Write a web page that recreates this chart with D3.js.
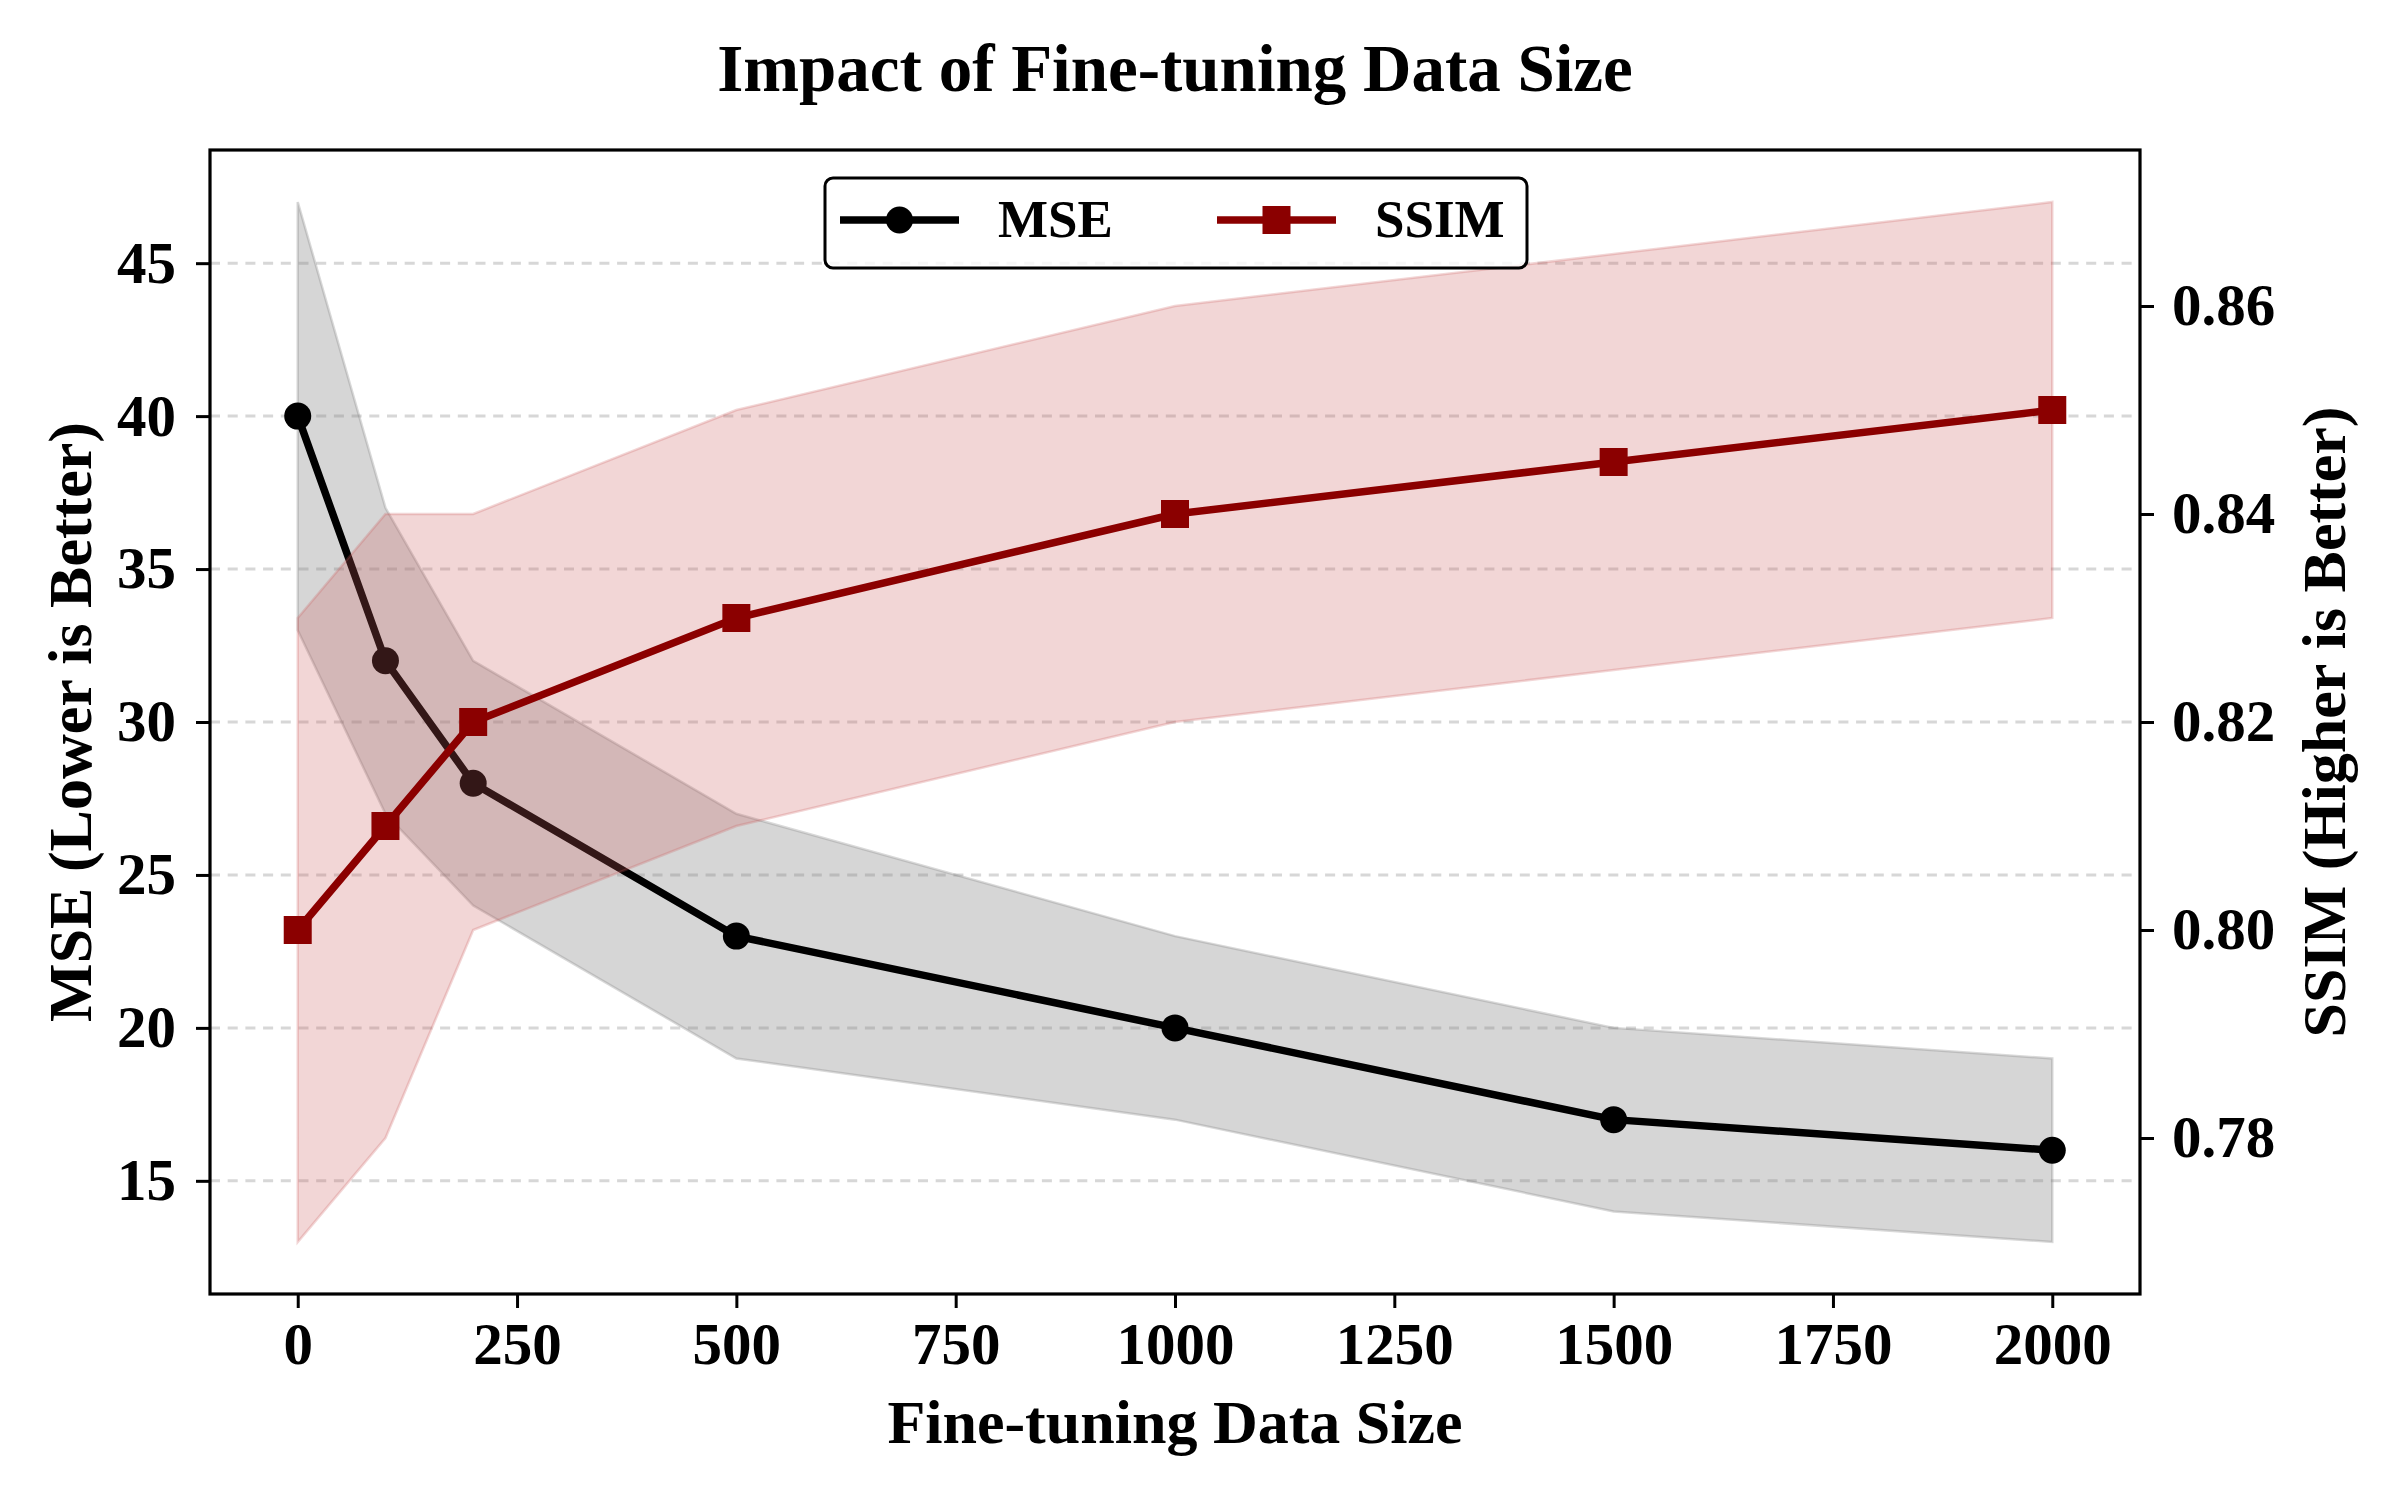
<!DOCTYPE html>
<html>
<head>
<meta charset="utf-8">
<script src="https://cdn.jsdelivr.net/npm/d3@7"></script>
<style>
  body { margin: 0; background: #fff; }
  text { font-family: "Liberation Serif", "Times New Roman", serif; font-weight: bold; }
</style>
</head>
<body>
<svg width="2400" height="1500"></svg>
<script>
// ---- data ----
var sizes = [0, 100, 200, 500, 1000, 1500, 2000];
var mseMean = [40, 32, 28, 23, 20, 17, 16];
var mseLow  = [33, 27, 24, 19, 17, 14, 13];
var mseHigh = [47, 37, 32, 27, 23, 20, 19];
var ssimMean = [0.80, 0.81, 0.82, 0.83, 0.84, 0.845, 0.85];
var ssimLow  = [0.77, 0.78, 0.80, 0.81, 0.82, 0.825, 0.83];
var ssimHigh = [0.83, 0.84, 0.84, 0.85, 0.86, 0.865, 0.87];
var xTicks = [0, 250, 500, 750, 1000, 1250, 1500, 1750, 2000];
var mseTicks = [15, 20, 25, 30, 35, 40, 45];
var ssimTicks = [0.78, 0.80, 0.82, 0.84, 0.86];

var svg = d3.select('svg');

// plot box
var box = {l: 210, r: 2140, t: 150, b: 1294};
var mseColor = '#000000';
var ssimColor = '#8B0000';
var lineW = 7.5;

var x = d3.scaleLinear().domain([-100, 2100]).range([box.l, box.r]);
var yMse = d3.scaleLinear().domain([11.3, 48.7]).range([box.b, box.t]);
var ySsim = d3.scaleLinear().domain([0.765, 0.875]).range([box.b, box.t]);

var rows = sizes.map(function(s, i) {
    return {x: s, mse: mseMean[i], mLo: mseLow[i], mHi: mseHigh[i],
            ssim: ssimMean[i], sLo: ssimLow[i], sHi: ssimHigh[i]};
});

// grid (left axis ticks)
svg.append('g').selectAll('line')
    .data(mseTicks)
    .enter().append('line')
    .attr('x1', box.l).attr('x2', box.r)
    .attr('y1', function(d) { return yMse(d); })
    .attr('y2', function(d) { return yMse(d); })
    .attr('stroke', '#b0b0b0')
    .attr('stroke-opacity', 0.5)
    .attr('stroke-width', 3)
    .attr('stroke-dasharray', '10,7.7');

// MSE band + line
var mseArea = d3.area()
    .x(function(d) { return x(d.x); })
    .y0(function(d) { return yMse(d.mLo); })
    .y1(function(d) { return yMse(d.mHi); });
svg.append('path')
    .datum(rows)
    .attr('d', mseArea)
    .attr('fill', '#808080').attr('fill-opacity', 0.32)
    .attr('stroke', '#808080').attr('stroke-opacity', 0.3).attr('stroke-width', 2.5);

var mseLine = d3.line()
    .x(function(d) { return x(d.x); })
    .y(function(d) { return yMse(d.mse); });
svg.append('path')
    .datum(rows)
    .attr('d', mseLine)
    .attr('fill', 'none')
    .attr('stroke', mseColor)
    .attr('stroke-width', lineW);
svg.append('g').selectAll('circle')
    .data(rows)
    .enter().append('circle')
    .attr('cx', function(d) { return x(d.x); })
    .attr('cy', function(d) { return yMse(d.mse); })
    .attr('r', 13.5)
    .attr('fill', mseColor);

// SSIM band + line (twin axis, drawn on top)
var ssimArea = d3.area()
    .x(function(d) { return x(d.x); })
    .y0(function(d) { return ySsim(d.sLo); })
    .y1(function(d) { return ySsim(d.sHi); });
svg.append('path')
    .datum(rows)
    .attr('d', ssimArea)
    .attr('fill', '#CD5C5C').attr('fill-opacity', 0.25)
    .attr('stroke', '#CD5C5C').attr('stroke-opacity', 0.25).attr('stroke-width', 2.5);

var ssimLine = d3.line()
    .x(function(d) { return x(d.x); })
    .y(function(d) { return ySsim(d.ssim); });
svg.append('path')
    .datum(rows)
    .attr('d', ssimLine)
    .attr('fill', 'none')
    .attr('stroke', ssimColor)
    .attr('stroke-width', lineW);
svg.append('g').selectAll('rect')
    .data(rows)
    .enter().append('rect')
    .attr('x', function(d) { return x(d.x) - 14; })
    .attr('y', function(d) { return ySsim(d.ssim) - 14; })
    .attr('width', 28).attr('height', 28)
    .attr('fill', ssimColor);

// Axes
function styleAxis(g) {
    g.select('.domain').remove();
    g.selectAll('.tick line').attr('stroke', '#000').attr('stroke-width', 3);
    g.selectAll('.tick text').attr('fill', '#000')
        .style('font-family', '"Liberation Serif", "Times New Roman", serif')
        .style('font-weight', 'bold')
        .style('font-size', '59px');
}
svg.append('g')
    .attr('transform', 'translate(0,' + box.b + ')')
    .call(d3.axisBottom(x).tickValues(xTicks).tickSize(14).tickPadding(14).tickFormat(d3.format('d')))
    .call(styleAxis);
svg.append('g')
    .attr('transform', 'translate(' + box.l + ',0)')
    .call(d3.axisLeft(yMse).tickValues(mseTicks).tickSize(14).tickPadding(20).tickFormat(d3.format('d')))
    .call(styleAxis);
svg.append('g')
    .attr('transform', 'translate(' + box.r + ',0)')
    .call(d3.axisRight(ySsim).tickValues(ssimTicks).tickSize(14).tickPadding(18).tickFormat(d3.format('.2f')))
    .call(styleAxis);

// frame
svg.append('rect')
    .attr('x', box.l).attr('y', box.t)
    .attr('width', box.r - box.l).attr('height', box.b - box.t)
    .attr('fill', 'none').attr('stroke', '#000').attr('stroke-width', 3.2);

// Title and labels
svg.append('text')
    .attr('x', (box.l + box.r) / 2).attr('y', 91)
    .attr('text-anchor', 'middle')
    .style('font-size', '67px')
    .text('Impact of Fine-tuning Data Size');
svg.append('text')
    .attr('x', (box.l + box.r) / 2).attr('y', 1443)
    .attr('text-anchor', 'middle')
    .style('font-size', '62px')
    .text('Fine-tuning Data Size');
svg.append('text')
    .attr('transform', 'translate(69,' + ((box.t + box.b) / 2) + ') rotate(-90)')
    .attr('text-anchor', 'middle')
    .attr('dy', '0.35em')
    .style('font-size', '62px')
    .text('MSE (Lower is Better)');
svg.append('text')
    .attr('transform', 'translate(2323,' + ((box.t + box.b) / 2) + ') rotate(-90)')
    .attr('text-anchor', 'middle')
    .attr('dy', '0.35em')
    .style('font-size', '62px')
    .text('SSIM (Higher is Better)');

// Legend
var legendG = svg.append('g');
legendG.append('rect')
    .attr('x', 825).attr('y', 178).attr('width', 702).attr('height', 90)
    .attr('rx', 8).attr('ry', 8)
    .attr('fill', '#fff').attr('fill-opacity', 0.8)
    .attr('stroke', '#000').attr('stroke-width', 3);
var legendItems = [
    {name: 'MSE', color: mseColor, shape: 'circle', x0: 840},
    {name: 'SSIM', color: ssimColor, shape: 'square', x0: 1217}
];
legendItems.forEach(function(it) {
    legendG.append('line')
        .attr('x1', it.x0).attr('x2', it.x0 + 119)
        .attr('y1', 220).attr('y2', 220)
        .attr('stroke', it.color).attr('stroke-width', lineW);
    if (it.shape == 'circle') {
        legendG.append('circle').attr('cx', it.x0 + 59.5).attr('cy', 220).attr('r', 13.5).attr('fill', it.color);
    } else {
        legendG.append('rect').attr('x', it.x0 + 59.5 - 14).attr('y', 206).attr('width', 28).attr('height', 28).attr('fill', it.color);
    }
    legendG.append('text')
        .attr('x', it.x0 + 158).attr('y', 237)
        .style('font-size', '53px')
        .text(it.name);
});
</script>
</body>
</html>
